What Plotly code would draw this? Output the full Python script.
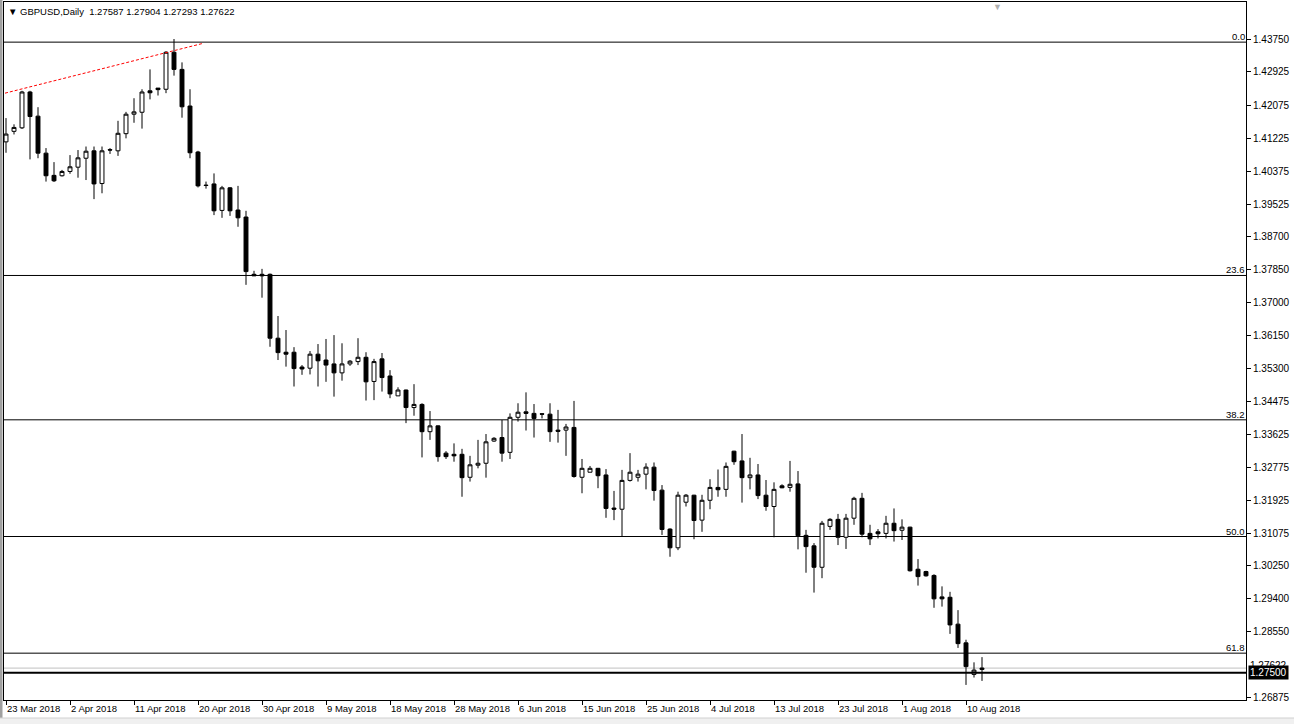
import datetime as dt
import plotly.graph_objects as go

# ---------------- data (GBPUSD daily) ----------------
opens = [1.4113, 1.4140, 1.4149, 1.4241, 1.4179, 1.4084, 1.4027, 1.4026, 1.4037, 1.4048,
         1.4071, 1.4090, 1.4006, 1.4093, 1.4090, 1.4134, 1.4184, 1.4189, 1.4244, 1.4251,
         1.4248, 1.4343, 1.4299, 1.4205, 1.4087, 1.4002, 1.4005, 1.3937, 1.3995, 1.3938,
         1.3920, 1.3773, 1.3773, 1.3773, 1.3609, 1.3573, 1.3573, 1.3535, 1.3532, 1.3568,
         1.3553, 1.3543, 1.3520, 1.3543, 1.3549, 1.3560, 1.3498, 1.3556, 1.3512, 1.3461,
         1.3476, 1.3431, 1.3439, 1.3369, 1.3384, 1.3314, 1.3311, 1.3311, 1.3252, 1.3283,
         1.3288, 1.3345, 1.3354, 1.3316, 1.3406, 1.3420, 1.3416, 1.3415, 1.3414, 1.3373,
         1.3373, 1.3380, 1.3252, 1.3265, 1.3275, 1.3258, 1.3173, 1.3170, 1.3244, 1.3252,
         1.3260, 1.3278, 1.3219, 1.3119, 1.3071, 1.3188, 1.3206, 1.3142, 1.3193, 1.3226,
         1.3221, 1.3319, 1.3294, 1.3251, 1.3258, 1.3206, 1.3177, 1.3230, 1.3226, 1.3235,
         1.3103, 1.3076, 1.3021, 1.3126, 1.3144, 1.3098, 1.3147, 1.3198, 1.3108, 1.3112,
         1.3108, 1.3134, 1.3116, 1.3124, 1.3016, 1.3010, 1.3000, 1.2945, 1.2944, 1.2875,
         1.2827, 1.2746, 1.27587]
highs = [1.4174, 1.4158, 1.4244, 1.4244, 1.4202, 1.4097, 1.4061, 1.4041, 1.4079, 1.4092,
         1.4101, 1.4101, 1.4101, 1.4097, 1.4167, 1.4190, 1.4225, 1.4248, 1.4299, 1.4251,
         1.4346, 1.4377, 1.4317, 1.4248, 1.4090, 1.4011, 1.4032, 1.4000, 1.3997, 1.4000,
         1.3936, 1.3782, 1.3787, 1.3775, 1.3666, 1.3630, 1.3586, 1.3540, 1.3576, 1.3594,
         1.3607, 1.3617, 1.3596, 1.3553, 1.3609, 1.3573, 1.3556, 1.3571, 1.3527, 1.3483,
         1.3477, 1.3491, 1.3442, 1.3422, 1.3385, 1.3319, 1.3339, 1.3325, 1.3307, 1.3348,
         1.3363, 1.3355, 1.3399, 1.3416, 1.3442, 1.3470, 1.3440, 1.3416, 1.3442, 1.3425,
         1.3389, 1.3448, 1.3299, 1.3281, 1.3276, 1.3273, 1.3217, 1.3271, 1.3314, 1.3271,
         1.3288, 1.3290, 1.3232, 1.3121, 1.3215, 1.3209, 1.3207, 1.3207, 1.3247, 1.3272,
         1.3290, 1.3320, 1.3363, 1.3302, 1.3286, 1.3245, 1.3239, 1.3234, 1.3294, 1.3268,
         1.3117, 1.3083, 1.3140, 1.3147, 1.3158, 1.3158, 1.3202, 1.3212, 1.3130, 1.3119,
         1.3153, 1.3172, 1.3144, 1.3125, 1.3042, 1.3012, 1.3003, 1.2972, 1.2958, 1.2911,
         1.2835, 1.2777, 1.27904]
lows = [1.4085, 1.4132, 1.4146, 1.4068, 1.4071, 1.4011, 1.4010, 1.4024, 1.4031, 1.4021,
        1.4015, 1.3966, 1.3981, 1.4082, 1.4077, 1.4122, 1.4162, 1.4147, 1.4222, 1.4232,
        1.4238, 1.4283, 1.4175, 1.4071, 1.3996, 1.3993, 1.3925, 1.3918, 1.3923, 1.3895,
        1.3746, 1.3769, 1.3713, 1.3587, 1.3553, 1.3536, 1.3485, 1.3515, 1.3516, 1.3485,
        1.3497, 1.3459, 1.3500, 1.3538, 1.3540, 1.3449, 1.3450, 1.3472, 1.3455, 1.3461,
        1.3391, 1.3410, 1.3303, 1.3348, 1.3292, 1.3299, 1.3292, 1.3202, 1.3241, 1.3275,
        1.3251, 1.3343, 1.3292, 1.3299, 1.3395, 1.3372, 1.3354, 1.3403, 1.3343, 1.3341,
        1.3307, 1.3251, 1.3211, 1.3265, 1.3224, 1.3148, 1.3142, 1.3100, 1.3241, 1.3241,
        1.3221, 1.3192, 1.3104, 1.3048, 1.3065, 1.3177, 1.3093, 1.3112, 1.3170, 1.3202,
        1.3202, 1.3284, 1.3187, 1.3221, 1.3196, 1.3166, 1.3098, 1.3224, 1.3215, 1.3067,
        1.3007, 1.2956, 1.2993, 1.3117, 1.3078, 1.3068, 1.3130, 1.3098, 1.3078, 1.3095,
        1.3095, 1.3087, 1.3091, 1.3010, 1.2974, 1.2997, 1.2917, 1.2920, 1.2850, 1.2814,
        1.2719, 1.2738, 1.27293]
closes = [1.4133, 1.4150, 1.4241, 1.4178, 1.4084, 1.4026, 1.4013, 1.4037, 1.4049, 1.4072,
          1.4089, 1.4005, 1.4090, 1.4092, 1.4135, 1.4184, 1.4190, 1.4241, 1.4239, 1.4247,
          1.4343, 1.4299, 1.4203, 1.4085, 1.4000, 1.4001, 1.3936, 1.3995, 1.3936, 1.3918,
          1.3780, 1.3769, 1.3769, 1.3609, 1.3572, 1.3568, 1.3531, 1.3530, 1.3568, 1.3551,
          1.3540, 1.3520, 1.3543, 1.3550, 1.3560, 1.3497, 1.3549, 1.3508, 1.3466, 1.3476,
          1.3431, 1.3439, 1.3369, 1.3384, 1.3305, 1.3305, 1.3307, 1.3251, 1.3284, 1.3288,
          1.3343, 1.3352, 1.3314, 1.3406, 1.3419, 1.3416, 1.3403, 1.3414, 1.3369, 1.3370,
          1.3381, 1.3254, 1.3275, 1.3275, 1.3256, 1.3172, 1.3170, 1.3244, 1.3265, 1.3260,
          1.3278, 1.3218, 1.3118, 1.3071, 1.3206, 1.3206, 1.3141, 1.3193, 1.3226, 1.3220,
          1.3280, 1.3292, 1.3251, 1.3258, 1.3205, 1.3177, 1.3221, 1.3225, 1.3234, 1.3102,
          1.3074, 1.3021, 1.3134, 1.3144, 1.3098, 1.3147, 1.3198, 1.3106, 1.3094, 1.3107,
          1.3134, 1.3115, 1.3124, 1.3012, 1.2997, 1.2999, 1.2940, 1.2940, 1.2873, 1.2825,
          1.2766, 1.2757, 1.27622]

first_bar_date = dt.date(2018, 3, 23)
tick_labels = ["23 Mar 2018", "2 Apr 2018", "11 Apr 2018", "20 Apr 2018", "30 Apr 2018",
               "9 May 2018", "18 May 2018", "28 May 2018", "6 Jun 2018", "15 Jun 2018",
               "25 Jun 2018", "4 Jul 2018", "13 Jul 2018", "23 Jul 2018", "1 Aug 2018",
               "10 Aug 2018"]
price_ticks = [1.43750, 1.42925, 1.42075, 1.41225, 1.40375, 1.39525, 1.38700, 1.37850,
               1.37000, 1.36150, 1.35300, 1.34475, 1.33625, 1.32775, 1.31925, 1.31075,
               1.30250, 1.29400, 1.28550, 1.26875]

fib_high = 1.4369
fib_low = 1.1831
fib_levels = [0.0, 23.6, 38.2, 50.0, 61.8]

hline_price = 1.27500
trend_x = [-0.125, 24.66]
trend_y = [1.4238, 1.4366]

symbol = "GBPUSD,Daily"

# ---------------- build ----------------
# broker bars: every day except Saturday (Sunday sessions included)
dates = []
d = first_bar_date
while len(dates) < len(opens):
    if d.weekday() != 5:
        dates.append(d)
    d += dt.timedelta(days=1)
x = list(range(len(opens)))
tickvals = [dates.index(dt.datetime.strptime(t, "%d %b %Y").date()) for t in tick_labels]

FONT = "Liberation Sans"
FS = 9.5

fig = go.Figure()
fig.add_trace(go.Candlestick(
    x=x, open=opens, high=highs, low=lows, close=closes,
    increasing=dict(line=dict(color="black", width=1), fillcolor="white"),
    decreasing=dict(line=dict(color="black", width=1), fillcolor="black"),
    whiskerwidth=0, showlegend=False, hoverinfo="skip",
))

shapes = []
annotations = []
# fibonacci levels
for lv in fib_levels:
    p = fib_high - (fib_high - fib_low) * lv / 100.0
    shapes.append(dict(type="line", xref="paper", x0=0, x1=1, yref="y", y0=p, y1=p,
                       line=dict(color="black", width=1), layer="below"))
    annotations.append(dict(xref="paper", x=1, xanchor="right", yref="y", y=p,
                            yanchor="bottom", text="%.1f" % lv, showarrow=False,
                            font=dict(family=FONT, size=9.5, color="black"), yshift=-2,
                            xshift=1))
# bid line & horizontal line
bid = closes[-1]
shapes.append(dict(type="line", xref="paper", x0=0, x1=1, yref="y", y0=bid, y1=bid,
                   line=dict(color="#C0C0C0", width=1), layer="below"))
shapes.append(dict(type="line", xref="paper", x0=0, x1=1, yref="y", y0=hline_price,
                   y1=hline_price, line=dict(color="black", width=2)))
# red dashed trend line
shapes.append(dict(type="line", xref="x", yref="y", x0=trend_x[0], y0=trend_y[0],
                   x1=trend_x[1], y1=trend_y[1],
                   line=dict(color="#FF0000", width=1, dash="3px,2px")))
# window frame bits
shapes.append(dict(type="rect", xref="paper", yref="paper", x0=-0.01, x1=-0.0012,
                   y0=-0.05, y1=1.01, fillcolor="#A0A0A0", line=dict(width=0)))
shapes.append(dict(type="rect", xref="paper", yref="paper", x0=-0.01, x1=1.05,
                   y0=-0.045, y1=-0.0258, fillcolor="#F0F0F0",
                   line=dict(color="#D0D0D0", width=1)))

# axis price labels
annotations.append(dict(xref="paper", x=1, xanchor="left", yref="y", y=bid,
                        yanchor="middle", text="%.5f" % bid, showarrow=False,
                        bgcolor="white", font=dict(family=FONT, size=10, color="black"),
                        xshift=3, yshift=3, borderpad=0))
annotations.append(dict(xref="paper", x=1, xanchor="left", yref="y", y=hline_price,
                        yanchor="middle", text="%.5f" % hline_price, showarrow=False,
                        bgcolor="black", font=dict(family=FONT, size=10, color="white"),
                        xshift=2, borderpad=1))
# header
annotations.append(dict(xref="paper", yref="paper", x=0.002, y=0.9857, xanchor="left",
                        yanchor="middle", showarrow=False,
                        text="▼ %s  %.5f %.5f %.5f %.5f" % (symbol, opens[-1], highs[-1],
                                                          lows[-1], closes[-1]),
                        font=dict(family=FONT, size=FS, color="black")))
annotations.append(dict(xref="paper", yref="paper", x=0.8003, y=0.9935, xanchor="center",
                        yanchor="middle", showarrow=False, text="▼",
                        font=dict(family=FONT, size=9, color="#B0B0B0")))

fig.update_layout(
    width=1294, height=724,
    margin=dict(l=4, r=48, t=2, b=24, autoexpand=False),
    paper_bgcolor="white", plot_bgcolor="white",
    shapes=shapes, annotations=annotations,
    showlegend=False,
    font=dict(family=FONT, size=FS, color="black"),
)
fig.update_xaxes(
    range=[-0.25, 155], rangeslider=dict(visible=False), automargin=False,
    tickmode="array", tickvals=tickvals, ticktext=tick_labels, tickangle=0,
    ticklabelposition="outside right", ticks="outside", ticklen=4, tickcolor="black",
    showgrid=False, zeroline=False, showline=True, linecolor="black", linewidth=1,
    mirror=True, tickfont=dict(family=FONT, size=FS, color="black"),
)
fig.update_yaxes(
    range=[1.26803, 1.44720], side="right", automargin=False,
    tickmode="array", tickvals=price_ticks, ticktext=["%.5f" % v for v in price_ticks],
    ticks="outside", ticklen=4, tickcolor="black",
    showgrid=False, zeroline=False, showline=True, linecolor="black", linewidth=1,
    mirror=True, tickfont=dict(family=FONT, size=10, color="black"),
)

fig.write_html(
    "out.html",
    config={"displayModeBar": False},
    post_script="document.body.style.margin='0';document.body.style.overflow='hidden';",
)
